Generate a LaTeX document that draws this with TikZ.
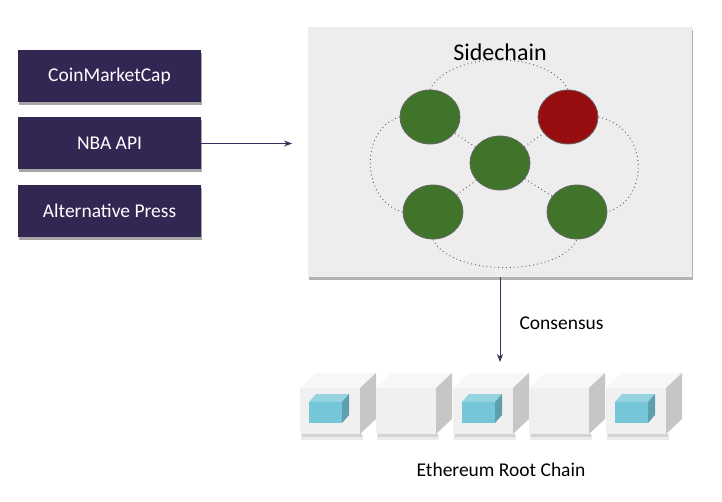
\documentclass[tikz,border=0pt]{standalone}
\usepackage{fontspec}
\setmainfont{Carlito}
\usetikzlibrary{arrows.meta,shadows,shapes.geometric}
\definecolor{srcpurple}{HTML}{322653}
\definecolor{panelgray}{HTML}{EDEDED}
\definecolor{nodegreen}{HTML}{3F742A}
\definecolor{nodered}{HTML}{960C0F}
\definecolor{cubefront}{HTML}{F0F0F0}
\definecolor{cubetop}{HTML}{F7F7F7}
\definecolor{cubeside}{HTML}{C6C6C6}
\definecolor{cyanfront}{HTML}{74C6D8}
\definecolor{cyantop}{HTML}{95D3E1}
\definecolor{cyanside}{HTML}{5E9FAE}
\definecolor{arrowcol}{HTML}{3A3060}
\tikzset{
  srcbox/.style={draw=none, fill=srcpurple, minimum width=183pt, minimum height=52pt, inner sep=0pt,
    text=white, font=\fontsize{19.5}{22}\selectfont,
    drop shadow={shadow xshift=1pt, shadow yshift=-3pt, opacity=0.35, fill=black}},
  peer/.style={ellipse, draw=gray!80!black, line width=0.8pt, minimum width=60pt, minimum height=54pt, inner sep=0pt},
  dotlink/.style={dash pattern=on 0.9pt off 3pt, gray!70!black, line width=0.9pt},
  flow/.style={arrowcol, line width=0.8pt, -{Stealth[length=8pt,width=6pt]}},
  lbl/.style={font=\fontsize{19.5}{22}\selectfont, text=black},
}
\newcommand{\bigcubeat}[2]{%
  \fill[black, opacity=0.08] (#1+1,434) rectangle (#1+63,440);
  \fill[black, opacity=0.10] (#1+2,434) rectangle (#1+62,437);
  \node[draw=none, fill=cubefront, minimum width=60pt, minimum height=46pt, inner sep=0pt, anchor=north west] (#2) at (#1,388) {};
  \fill[cubetop] (#1,388) -- (#1+16,373) -- (#1+76,373) -- (#1+60,388) -- cycle;
  \fill[cubeside] (#1+60,388) -- (#1+76,373) -- (#1+76,419) -- (#1+60,434) -- cycle;
}
\newcommand{\smallcubeat}[1]{%
  \fill[cyanfront] (#1+9,402) rectangle (#1+42,423);
  \fill[cyantop] (#1+9,402) -- (#1+16,394) -- (#1+49,394) -- (#1+42,402) -- cycle;
  \fill[cyanside] (#1+42,402) -- (#1+49,394) -- (#1+49,415) -- (#1+42,423) -- cycle;
}
\begin{document}
\begin{tikzpicture}[x=1pt,y=-1pt]
\useasboundingbox (0,0) rectangle (722,502);
\fill[white] (0,0) rectangle (722,502);

% sources
\node[srcbox] (cmc) at (109.5,76) {CoinMarketCap};
\node[srcbox] (nba) at (109.5,143.5) {NBA API};
\node[srcbox] (alt) at (109.5,211) {Alternative Press};

% sidechain panel
\node[draw=none, fill=panelgray, minimum width=384pt, minimum height=250pt, inner sep=0pt,
  drop shadow={shadow xshift=1pt, shadow yshift=-3pt, opacity=0.3, fill=black}] (panel) at (500,152) {};
\node[font=\fontsize{24}{27}\selectfont] (title) at (500,52) {Sidechain};

\coordinate (nbaend) at (292,143.5);
\draw[flow] (nba.east) -- (nbaend);

% peers
\node[peer, fill=nodegreen] (tl) at (430,117) {};
\node[peer, fill=nodered] (tr) at (568,117) {};
\node[peer, fill=nodegreen] (c) at (500,163) {};
\node[peer, fill=nodegreen] (bl) at (433,212) {};
\node[peer, fill=nodegreen] (br) at (577,212) {};

\draw[dotlink] (c) -- (tl);
\draw[dotlink] (c) -- (tr);
\draw[dotlink] (c) -- (bl);
\draw[dotlink] (c) -- (br);
\draw[dotlink] (tl.north) .. controls (450,50) and (548,50) .. (tr.north);
\draw[dotlink] (tl.west) .. controls (360,128) and (360,200) .. (bl.west);
\draw[dotlink] (tr.east) .. controls (650,128) and (650,200) .. (br.east);
\draw[dotlink] (bl.south) .. controls (450,277) and (560,277) .. (br.south);

% consensus
\coordinate (consend) at (500,362);
\draw[flow] (panel.south) -- (consend);
\node[lbl, anchor=west] (cons) at (516,323) {Consensus};

% chain
\bigcubeat{300}{b1}
\bigcubeat{376}{b2}
\bigcubeat{453}{b3}
\bigcubeat{529}{b4}
\bigcubeat{606}{b5}
\smallcubeat{300}
\smallcubeat{453}
\smallcubeat{606}
\node[lbl] (chain) at (501,470) {Ethereum Root Chain};
\end{tikzpicture}
\end{document}
